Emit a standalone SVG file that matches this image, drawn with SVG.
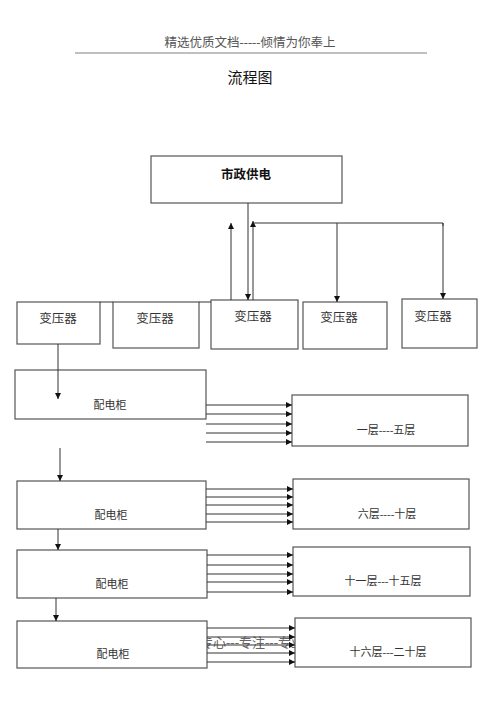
<svg xmlns="http://www.w3.org/2000/svg" width="500" height="708" viewBox="0 0 500 708">
<defs>
<marker id="ah" viewBox="0 0 10 10" refX="10" refY="5" markerWidth="6" markerHeight="6" markerUnits="userSpaceOnUse" orient="auto">
<path d="M0,0 L10,5 L0,10 z" fill="#111"/>
</marker>
<style>
.box{fill:#fff;stroke:#555;stroke-width:1.2}
.t{font-family:"Liberation Serif","Noto Sans CJK SC",serif;fill:#333;text-anchor:middle;dominant-baseline:central}
.ln{stroke:#333;stroke-width:1;fill:none}
.ar{stroke:#333;stroke-width:1;fill:none;marker-end:url(#ah)}
</style>
</defs>
<rect width="500" height="708" fill="#fff"/>
<text x="250" y="43" class="t" font-size="12.5" fill="#555" style="fill:#555">精选优质文档-----倾情为你奉上</text>
<line x1="75" y1="53" x2="427" y2="53" stroke="#aaa" stroke-width="1.5"/>
<text x="250" y="76" class="t" font-size="15" style="fill:#111;font-family:'Noto Sans CJK SC',sans-serif">流程图</text>
<text x="200" y="642" font-size="13" style="fill:#666;font-family:'Liberation Serif','Noto Sans CJK SC',serif;dominant-baseline:central">专心---专注---专业</text>

<g id="n-supply"><rect class="box" x="151" y="156" width="191" height="47"/><text x="246" y="173" class="t" font-size="12.5" font-weight="bold" style="fill:#111;font-family:'Noto Sans CJK SC',sans-serif">市政供电</text></g>

<g id="n-t1"><rect class="box" x="17" y="302" width="83" height="42"/><text x="58" y="319" class="t" font-size="12.5">变压器</text></g>
<g id="n-t2"><rect class="box" x="113" y="302" width="86" height="46"/><text x="155" y="319" class="t" font-size="12.5">变压器</text></g>
<g id="n-t3"><rect class="box" x="211" y="300" width="87" height="49"/><text x="253" y="317" class="t" font-size="12.5">变压器</text></g>
<g id="n-t4"><rect class="box" x="303" y="302" width="84" height="47"/><text x="339" y="318" class="t" font-size="12.5">变压器</text></g>
<g id="n-t5"><rect class="box" x="402" y="299" width="75" height="49"/><text x="433" y="317" class="t" font-size="12.5">变压器</text></g>

<g id="n-c1"><rect class="box" x="15" y="370" width="191" height="49"/><text x="110" y="405" class="t" font-size="11">配电柜</text></g>
<g id="n-c2"><rect class="box" x="17" y="481" width="189" height="48"/><text x="111" y="515" class="t" font-size="11">配电柜</text></g>
<g id="n-c3"><rect class="box" x="17" y="550" width="190" height="48"/><text x="112" y="584" class="t" font-size="11">配电柜</text></g>
<g id="n-c4"><rect class="box" x="17" y="621" width="190" height="47"/><text x="113" y="654" class="t" font-size="11">配电柜</text></g>

<g id="n-f1"><rect class="box" x="292" y="395" width="176" height="51"/><text x="386" y="430" class="t" font-size="11">一层----五层</text></g>
<g id="n-f2"><rect class="box" x="293" y="479" width="176" height="50"/><text x="387" y="514" class="t" font-size="11">六层----十层</text></g>
<g id="n-f3"><rect class="box" x="293" y="547" width="177" height="49"/><text x="383" y="581" class="t" font-size="11">十一层---十五层</text></g>
<g id="n-f4"><rect class="box" x="295" y="618" width="176" height="49"/><text x="388" y="652" class="t" font-size="11">十六层---二十层</text></g>

<g id="connectors">
<line class="ln" x1="100" y1="302" x2="113" y2="302"/>
<line class="ln" x1="199" y1="302" x2="211" y2="302"/>
<line class="ar" x1="248" y1="203" x2="248" y2="300"/>
<line class="ar" x1="231" y1="300" x2="231" y2="223"/>
<line class="ar" x1="253" y1="300" x2="253" y2="221"/>
<polyline class="ln" points="253,223 443,223 443,226"/>
<line class="ar" x1="337" y1="223" x2="337" y2="302"/>
<line class="ar" x1="443" y1="223" x2="443" y2="299"/>

<line class="ar" x1="58" y1="344" x2="58" y2="399"/>
<line class="ar" x1="60" y1="448" x2="60" y2="481"/>
<line class="ar" x1="58" y1="529" x2="58" y2="550"/>
<line class="ar" x1="56" y1="598" x2="56" y2="621"/>

<line class="ar" x1="206" y1="405" x2="292" y2="405"/>
<line class="ar" x1="206" y1="414" x2="292" y2="414"/>
<line class="ar" x1="206" y1="424" x2="292" y2="424"/>
<line class="ar" x1="206" y1="433" x2="292" y2="433"/>
<line class="ar" x1="206" y1="442" x2="292" y2="442"/>

<line class="ar" x1="206" y1="489" x2="293" y2="489"/>
<line class="ar" x1="206" y1="497" x2="293" y2="497"/>
<line class="ar" x1="206" y1="505" x2="293" y2="505"/>
<line class="ar" x1="206" y1="514" x2="293" y2="514"/>
<line class="ar" x1="206" y1="522" x2="293" y2="522"/>

<line class="ar" x1="207" y1="555" x2="293" y2="555"/>
<line class="ar" x1="207" y1="565" x2="293" y2="565"/>
<line class="ar" x1="207" y1="574" x2="293" y2="574"/>
<line class="ar" x1="207" y1="582" x2="293" y2="582"/>
<line class="ar" x1="207" y1="592" x2="293" y2="592"/>

<line class="ar" x1="207" y1="628" x2="295" y2="628"/>
<line class="ar" x1="207" y1="637" x2="295" y2="637"/>
<line class="ar" x1="207" y1="645" x2="295" y2="645"/>
<line class="ar" x1="207" y1="653" x2="295" y2="653"/>
<line class="ar" x1="207" y1="662" x2="295" y2="662"/>
</g>
</svg>
